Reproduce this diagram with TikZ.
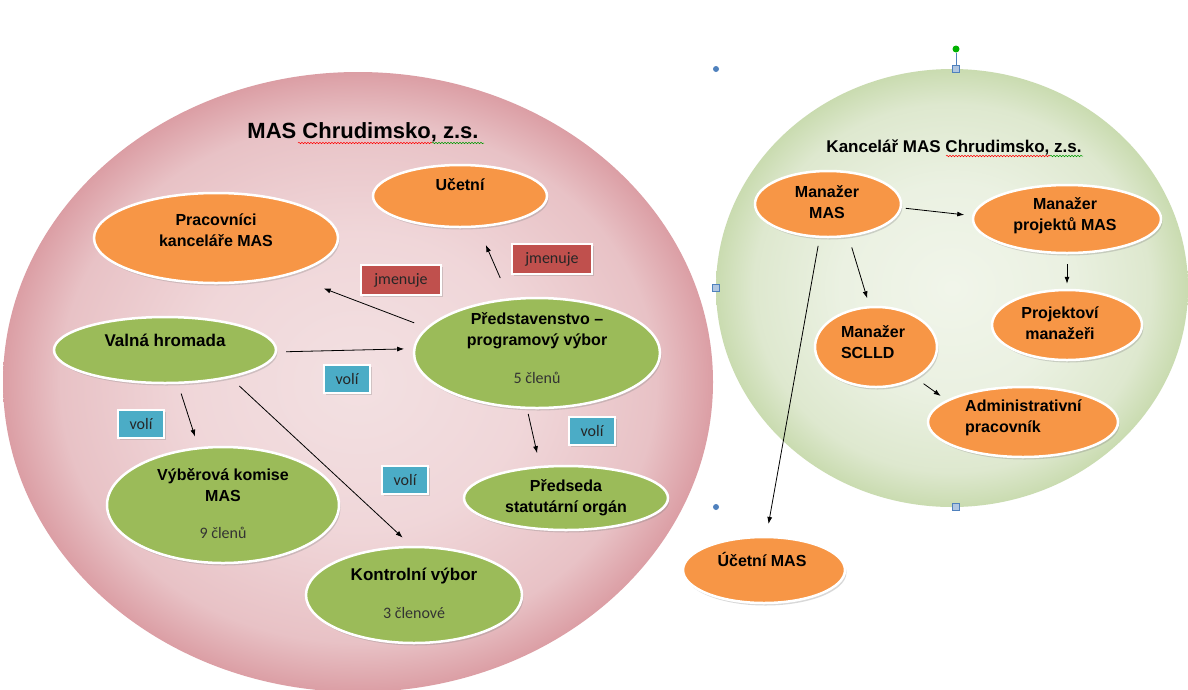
\documentclass[tikz,border=0pt]{standalone}
\usepackage{fontspec}
\setmainfont{Liberation Sans}
\newfontfamily\lblfont{Carlito}
\usetikzlibrary{shapes.geometric,shadows,arrows.meta,decorations.pathmorphing}

\definecolor{ovalorange}{RGB}{247,150,70}
\definecolor{ovalgreen}{RGB}{155,187,89}
\definecolor{lblred}{RGB}{192,80,77}
\definecolor{lblblue}{RGB}{75,172,198}
\definecolor{handleblue}{RGB}{79,129,189}

\pgfdeclareradialshading{pinkshade}{\pgfpoint{0bp}{0bp}}{%
  rgb(0bp)=(0.953,0.880,0.886);
  rgb(12bp)=(0.940,0.840,0.850);
  rgb(21bp)=(0.910,0.760,0.775);
  rgb(25bp)=(0.860,0.620,0.645);
  rgb(50bp)=(0.860,0.620,0.645)}
\pgfdeclareradialshading{greenshade}{\pgfpoint{0bp}{0bp}}{%
  rgb(0bp)=(0.945,0.961,0.918);
  rgb(12bp)=(0.920,0.945,0.885);
  rgb(21bp)=(0.870,0.910,0.810);
  rgb(25bp)=(0.790,0.860,0.690);
  rgb(50bp)=(0.790,0.860,0.690)}

\tikzset{
  oval/.style={ellipse, draw=white, line width=2.5pt, inner sep=0pt,
    drop shadow={shadow xshift=1.5pt, shadow yshift=-2.5pt, opacity=0.3}},
  orangeoval/.style={oval, fill=ovalorange},
  greenoval/.style={oval, fill=ovalgreen},
  lbl/.style={rectangle, draw=white, line width=2pt, inner sep=0pt,
    font=\lblfont\fontsize{16}{18}\selectfont, text=black!85,
    drop shadow={shadow xshift=1.5pt, shadow yshift=-2pt, opacity=0.3}},
  redlbl/.style={lbl, fill=lblred, minimum width=80pt, minimum height=30pt},
  bluelbl/.style={lbl, fill=lblblue, minimum width=46pt, minimum height=28pt},
  txt/.style={font=\bfseries\fontsize{16}{21}\selectfont, align=center, inner sep=0pt},
  pocet/.style={font=\lblfont\fontsize{16}{18}\selectfont, text=black!80, inner sep=0pt},
  arr/.style={-{Latex[length=7pt,width=5pt]}, line width=0.8pt},
  handle/.style={rectangle, draw=handleblue, fill=handleblue!45, line width=0.5pt, minimum size=7pt, inner sep=0pt},
  dot/.style={circle, fill=handleblue, minimum size=6pt, inner sep=0pt},
  spell/.style={line width=0.5pt, decorate, decoration={snake, amplitude=0.7pt, segment length=3pt}}
}

\begin{document}
\begin{tikzpicture}[x=1pt, y=-1pt]

\useasboundingbox (0,0) rectangle (1188,689);
\fill[white] (0,0) rectangle (1188,689);
\clip (0,0) rectangle (1188,689);

% the two groups
\shade[shading=pinkshade] (358,382) ellipse [x radius=355pt, y radius=310pt];
\shade[shading=greenshade] (952,288) ellipse [x radius=236pt, y radius=219pt];

\node[font=\bfseries\fontsize{22}{26}\selectfont] (title) at (363,132) {MAS Chrudimsko, z.s.};
\node[font=\bfseries\fontsize{17}{20}\selectfont] (kancelar) at (954,147) {Kancelář MAS Chrudimsko, z.s.};
\draw[spell, red] (298,143) -- (432,143);
\draw[spell, green!60!black] (432,143) -- (484,143);
\draw[spell, red] (946,156) -- (1050,156);
\draw[spell, green!60!black] (1050,156) -- (1083,156);

% MAS
\node[orangeoval, minimum width=244pt, minimum height=90pt] (pracovnici) at (216,238) {};
\node[orangeoval, minimum width=174pt, minimum height=62pt] (ucetni) at (460,196) {};
\node[greenoval, minimum width=222pt, minimum height=66pt] (valna) at (165,350) {};
\node[greenoval, minimum width=246pt, minimum height=110pt] (predst) at (537,353) {};
\node[greenoval, minimum width=232pt, minimum height=116pt] (vyberova) at (223,505) {};
\node[greenoval, minimum width=216pt, minimum height=96pt] (kontrolni) at (414,595) {};
\node[greenoval, minimum width=204pt, minimum height=64pt] (predseda) at (566,498) {};

\node[txt] (pracovnici-t) at (216,230) {Pracovníci\\kanceláře MAS};
\node[txt] (ucetni-t) at (460,185) {Učetní};
\node[txt, font=\bfseries\fontsize{17}{21}\selectfont] (valna-t) at (165,340) {Valná hromada};
\node[txt] (predst-t) at (537,331) {Představenstvo –\\programový výbor};
\node[pocet] (predst-p) at (537,378) {5 členů};
\node[txt] (vyberova-t) at (223,485) {Výběrová komise\\MAS};
\node[pocet] (vyberova-p) at (223,533) {9 členů};
\node[txt, font=\bfseries\fontsize{17}{21}\selectfont] (kontrolni-t) at (414,576) {Kontrolní výbor};
\node[pocet] (kontrolni-p) at (414,613) {3 členové};
\node[txt] (predseda-t) at (566,498) {Předseda\\statutární orgán};

\node[redlbl] (jmen1) at (401,280) {jmenuje};
\node[redlbl] (jmen2) at (552,259) {jmenuje};
\node[bluelbl] (voli1) at (347,379) {volí};
\node[bluelbl] (voli2) at (141,424) {volí};
\node[bluelbl] (voli3) at (405,480) {volí};
\node[bluelbl] (voli4) at (592,431) {volí};

\draw[arr, shorten <=9pt, shorten >=9pt] (valna.-1) -- (predst.178);
\draw[arr, shorten <=13pt, shorten >=37pt] (predst.167) -- (pracovnici.-27);
\draw[arr, shorten <=22pt, shorten >=19pt] (predst.117) -- (ucetni.-60);
\draw[arr, shorten <=10pt, shorten >=11pt] (valna.-69) -- (vyberova.113);
\draw[arr, shorten <=12pt, shorten >=12pt] (valna.-23) -- (kontrolni.93);
\draw[arr, shorten <=5pt, shorten >=13pt] (predst.-100) -- (predseda.129);

% kancelar
\node[orangeoval, minimum width=146pt, minimum height=66pt] (manazer) at (828,204) {};
\node[orangeoval, minimum width=188pt, minimum height=68pt] (manprojekt) at (1067,219) {};
\node[orangeoval, minimum width=150pt, minimum height=70pt] (projektovi) at (1067,325) {};
\node[orangeoval, minimum width=122pt, minimum height=80pt] (sclld) at (876,347) {};
\node[orangeoval, minimum width=190pt, minimum height=70pt] (admin) at (1023,422) {};
\node[orangeoval, minimum width=162pt, minimum height=66pt] (ucetnimas) at (764,570) {};

\node[txt] (manazer-t) at (827,202) {Manažer\\MAS};
\node[txt] (manprojekt-t) at (1065,216) {Manažer\\projektů MAS};
\node[txt] (projektovi-t) at (1060,323) {Projektoví\\manažeři};
\node[txt, align=left] (sclld-t) at (873,342) {Manažer\\SCLLD};
\node[txt, align=left, anchor=west] (admin-t) at (965,418) {Administrativní\\pracovník};
\node[txt] (ucetnimas-t) at (762,559) {Účetní MAS};

\draw[arr, shorten <=4pt, shorten >=8pt] (manazer.-3) -- (manprojekt.178);
\draw[arr, shorten <=10pt, shorten >=5pt] (manprojekt.south) -- (projektovi.north);
\draw[arr, shorten <=11pt, shorten >=8pt] (manazer.-58) -- (sclld.99);
\draw[arr, shorten <=8pt, shorten >=12pt] (manazer.-104) -- (ucetnimas.86);
\draw[arr, shorten <=9pt, shorten >=7pt] (sclld.-38) -- (admin.164);

% selection handles
\node[dot] (h-nw) at (716,69) {};
\node[dot] (h-sw) at (716,507) {};
\node[handle] (h-n) at (956,69) {};
\node[handle] (h-w) at (716,288) {};
\node[handle] (h-s) at (956,507) {};
\node[circle, fill=green!70!black, minimum size=7pt, inner sep=0pt] (h-rot) at (956,49) {};
\draw[handleblue, line width=0.8pt] (h-rot) -- (h-n);

\end{tikzpicture}
\end{document}
